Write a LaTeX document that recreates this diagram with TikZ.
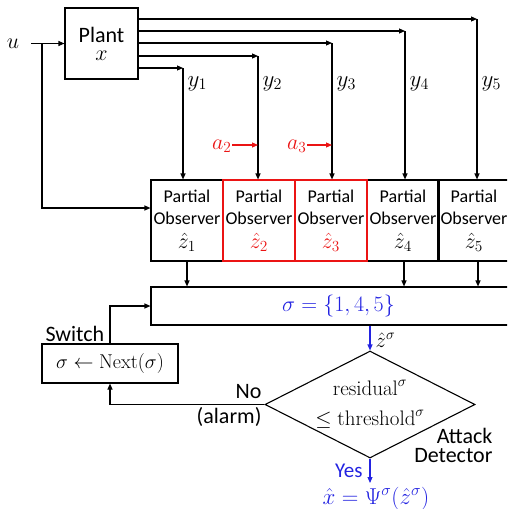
\RequirePackage{fix-cm}
\documentclass[tikz,border=0pt]{standalone}
\usepackage{fontspec}
\setsansfont{Carlito}
\usetikzlibrary{arrows.meta,shapes.geometric}
\definecolor{myblue}{RGB}{35,35,225}
\definecolor{myred}{RGB}{235,20,20}
\begin{document}
\begin{tikzpicture}[x=1pt,y=-1pt,
  >={Triangle[length=6pt,width=5pt]},
  line width=1.1pt,
  box/.style={draw, inner sep=0pt},
  obsbox/.style={box, minimum width=72pt, minimum height=81pt, align=center,
    font=\sffamily\fontsize{18}{22}\selectfont},
  sans/.style={font=\sffamily\fontsize{22}{24}\selectfont, inner sep=0pt},
  mth/.style={font=\fontsize{23}{26}\selectfont, inner sep=0pt}]
\useasboundingbox (0,0) rectangle (507,509);
\clip (0,0) rectangle (507,509);

% plant
\node[box, minimum width=73pt, minimum height=71pt, align=center,
  font=\fontsize{22}{18}\selectfont] (plant) at (101.5,43.5) {{\sffamily Plant}\\$x$};

% observers
\node[obsbox] (obs1) at (187,220.5) {Partial\\Observer\\[2pt]{\fontsize{22}{22}\selectfont$\hat{z}_1$}};
\node[obsbox] (obs4) at (403,220.5) {Partial\\Observer\\[2pt]{\fontsize{22}{22}\selectfont$\hat{z}_4$}};
\node[obsbox] (obs5) at (474,220.5) {Partial\\Observer\\[2pt]{\fontsize{22}{22}\selectfont$\hat{z}_5$}};
\node[obsbox, draw=myred] (obs2) at (259,220.5) {Partial\\Observer\\[2pt]{\fontsize{22}{22}\selectfont\color{myred}$\hat{z}_2$}};
\node[obsbox, draw=myred] (obs3) at (331,220.5) {Partial\\Observer\\[2pt]{\fontsize{22}{22}\selectfont\color{myred}$\hat{z}_3$}};

% sigma box
\node[box, minimum width=375pt, minimum height=38pt, text=myblue,
  font=\fontsize{22}{26}\selectfont] (sig) at (338.5,306) {$\sigma=\{1,4,5\}$};

% switch box
\node[box, minimum width=136pt, minimum height=39pt,
  font=\fontsize{20}{24}\selectfont] (sw) at (110,363.5) {$\sigma\leftarrow\mathrm{Next}(\sigma)$};

% detector diamond
\node[draw, diamond, aspect=1.96, minimum width=210pt, minimum height=107pt,
  inner sep=0pt, align=center, font=\fontsize{21}{30}\selectfont] (det) at (370,404.5)
  {$\mathrm{residual}^{\sigma}$\\$\leq\mathrm{threshold}^{\sigma}$};

% output
\node[inner sep=0pt, text=myblue, font=\fontsize{23}{26}\selectfont, anchor=base] (out) at (376,504)
  {$\hat{x}=\Psi^{\sigma}(\hat{z}^{\sigma})$};

% input u
\node[mth, font=\fontsize{22}{24}\selectfont, anchor=base] (ulab) at (13,48) {$u$};
\coordinate (ustart) at (31,43.5);
\coordinate (br) at (42,43.5);
\coordinate (o1y) at (0,208);
\draw[->] (ustart) -- (plant.west);
\draw[->] (br) |- (obs1.west |- o1y);

% outputs y1..y5
\foreach \i/\xx/\yy in {1/183/68, 2/258/56, 3/332/43, 4/405/31, 5/477/19}{
  \coordinate (c\i) at (\xx,\yy);
  \draw[->] (plant.east |- c\i) -- (c\i);
  \draw[->] (c\i) -- (c\i |- obs\i.north);
  \node[mth, anchor=base west] (ylab\i) at (\xx+4,86) {$y_{\i}$};
}

% attacks
\node[mth, font=\fontsize{22}{24}\selectfont, text=myred, anchor=base east] (a2) at (232,149) {$a_2$};
\coordinate (a2end) at (258,145);
\draw[->, myred] (a2.east |- a2end) -- (a2end);
\node[mth, font=\fontsize{22}{24}\selectfont, text=myred, anchor=base east] (a3) at (307,149) {$a_3$};
\coordinate (a3end) at (332,145);
\draw[->, myred] (a3.east |- a3end) -- (a3end);

% observers to sigma box
\coordinate (x1) at (187,0);
\coordinate (x4) at (404,0);
\coordinate (x5) at (478,0);
\draw[->] (obs1.south -| x1) -- (sig.north -| x1);
\draw[->] (obs4.south -| x4) -- (sig.north -| x4);
\draw[->] (obs5.south -| x5) -- (sig.north -| x5);

% switch to sigma
\draw[->] (sw.north) |- (sig.west);
\node[sans, anchor=base west] (swlab) at (45,341) {Switch};

% sigma to detector
\draw[->, myblue] (det.north |- sig.south) -- (det.north);
\node[mth, font=\fontsize{21}{24}\selectfont, anchor=base west] (zs) at (375,347) {$\hat{z}^{\sigma}$};

% no branch
\draw[->] (det.west) -| (sw.south);
\node[sans, anchor=base east] (nolab) at (262,398) {No};
\node[sans, anchor=base east] (alarm) at (262,423) {(alarm)};

% attack detector label
\node[sans, anchor=base east] (att) at (493,443) {Attack};
\node[sans, anchor=base east] (dtr) at (493,462) {Detector};

% yes branch
\coordinate (yesend) at (370,483);
\draw[->, myblue] (det.south) -- (yesend);
\node[sans, text=myblue, font=\sffamily\fontsize{21}{24}\selectfont, anchor=base east] (yes) at (363,477) {Yes};
\end{tikzpicture}
\end{document}
